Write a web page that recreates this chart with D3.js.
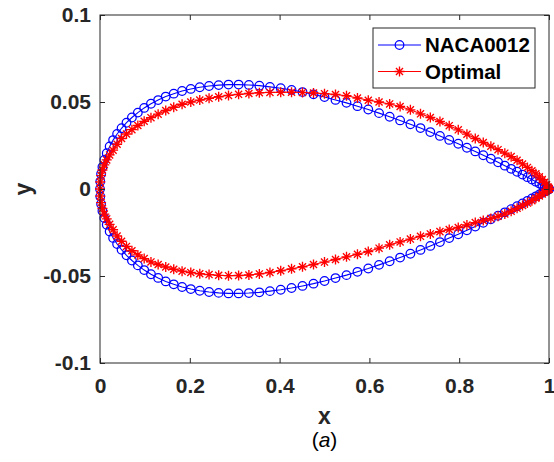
<!DOCTYPE html>
<html>
<head>
<meta charset="utf-8">
<script src="https://cdn.jsdelivr.net/npm/d3@7/dist/d3.min.js"></script>
<style>
  html, body { margin: 0; padding: 0; background: #fff; }
  svg { display: block; }
  text { font-family: "Liberation Sans", Arial, Helvetica, sans-serif; }
</style>
</head>
<body>
<svg id="chart" width="554" height="462"></svg>
<script>
// ---- data ----
const xStations = [0,0.0006,0.0024,0.0054,0.0096,0.0150,0.0215,0.0292,0.0381,0.0480,0.0590,0.0711,0.0843,0.0984,0.1135,0.1295,0.1464,0.1642,0.1828,0.2022,0.2222,0.2429,0.2643,0.2862,0.3087,0.3316,0.3549,0.3785,0.4025,0.4266,0.4510,0.4755,0.5,0.5245,0.5490,0.5734,0.5975,0.6215,0.6451,0.6684,0.6913,0.7138,0.7357,0.7571,0.7778,0.7979,0.8172,0.8358,0.8536,0.8705,0.8865,0.9016,0.9157,0.9289,0.9410,0.9520,0.9619,0.9708,0.9785,0.9850,0.9904,0.9946,0.9976,0.9994,1];

const nacaUpper = [0,0.0043,0.0086,0.0127,0.0167,0.0206,0.0244,0.0281,0.0316,0.0349,0.0381,0.0411,0.0439,0.0466,0.0490,0.0511,0.0531,0.0548,0.0563,0.0575,0.0585,0.0592,0.0597,0.0600,0.0600,0.0598,0.0594,0.0587,0.0579,0.0569,0.0557,0.0544,0.0529,0.0512,0.0495,0.0476,0.0457,0.0436,0.0415,0.0394,0.0372,0.0350,0.0327,0.0305,0.0282,0.0260,0.0237,0.0216,0.0194,0.0174,0.0154,0.0134,0.0116,0.0099,0.0083,0.0068,0.0054,0.0042,0.0031,0.0022,0.0014,0.0008,0.0004,0.0001,0];

const nacaLower = [0,-0.0043,-0.0086,-0.0127,-0.0167,-0.0206,-0.0244,-0.0281,-0.0316,-0.0349,-0.0381,-0.0411,-0.0439,-0.0466,-0.0490,-0.0511,-0.0531,-0.0548,-0.0563,-0.0575,-0.0585,-0.0592,-0.0597,-0.0600,-0.0600,-0.0598,-0.0594,-0.0587,-0.0579,-0.0569,-0.0557,-0.0544,-0.0529,-0.0512,-0.0495,-0.0476,-0.0457,-0.0436,-0.0415,-0.0394,-0.0372,-0.0350,-0.0327,-0.0305,-0.0282,-0.0260,-0.0237,-0.0216,-0.0194,-0.0174,-0.0154,-0.0134,-0.0116,-0.0099,-0.0083,-0.0068,-0.0054,-0.0042,-0.0031,-0.0022,-0.0014,-0.0008,-0.0004,-0.0001,0];

const optUpper = [0,0.0040,0.0077,0.0109,0.0139,0.0167,0.0196,0.0223,0.0257,0.0290,0.0316,0.0341,0.0365,0.0389,0.0410,0.0430,0.0451,0.0470,0.0487,0.0500,0.0511,0.0521,0.0530,0.0538,0.0544,0.0549,0.0553,0.0555,0.0556,0.0556,0.0555,0.0552,0.0548,0.0543,0.0536,0.0523,0.0510,0.0500,0.0489,0.0474,0.0455,0.0432,0.0411,0.0388,0.0364,0.0340,0.0315,0.0290,0.0267,0.0246,0.0226,0.0206,0.0186,0.0165,0.0144,0.0124,0.0105,0.0087,0.0070,0.0054,0.0039,0.0025,0.0013,0.0005,0];

const optLower = [0,-0.0040,-0.0078,-0.0112,-0.0144,-0.0172,-0.0203,-0.0234,-0.0270,-0.0300,-0.0330,-0.0355,-0.0379,-0.0400,-0.0419,-0.0434,-0.0448,-0.0461,-0.0472,-0.0480,-0.0487,-0.0492,-0.0496,-0.0498,-0.0497,-0.0494,-0.0488,-0.0480,-0.0470,-0.0459,-0.0447,-0.0434,-0.0420,-0.0405,-0.0390,-0.0375,-0.0359,-0.0340,-0.0321,-0.0304,-0.0288,-0.0272,-0.0258,-0.0245,-0.0233,-0.0221,-0.0207,-0.0193,-0.0181,-0.0170,-0.0157,-0.0144,-0.0128,-0.0111,-0.0095,-0.0081,-0.0067,-0.0053,-0.0040,-0.0028,-0.0018,-0.0010,-0.0004,-0.0001,0];

const xTicks = [0, 0.2, 0.4, 0.6, 0.8, 1];
const xTickLabels = ["0", "0.2", "0.4", "0.6", "0.8", "1"];
const yTicks = [-0.1, -0.05, 0, 0.05, 0.1];
const yTickLabels = ["-0.1", "-0.05", "0", "0.05", "0.1"];
const seriesNames = ["NACA0012", "Optimal"];

// ---- layout ----
const svg = d3.select("#chart");
const L = 100, R = 549, T = 15, B = 363;
const axisColor = "#262626";

const x = d3.scaleLinear().domain([0, 1]).range([L, R]);
const y = d3.scaleLinear().domain([-0.1, 0.1]).range([B, T]);

function loop(upper, lower) {
  const pts = [];
  for (let i = xStations.length - 1; i >= 0; i--) pts.push([xStations[i], upper[i]]);
  for (let i = 1; i < xStations.length; i++) pts.push([xStations[i], lower[i]]);
  return pts;
}
const nacaPts = loop(nacaUpper, nacaLower);
const optPts = loop(optUpper, optLower);

const line = d3.line().x(d => x(d[0])).y(d => y(d[1]));

const starSize = 5;
const sk = starSize * 0.7071;
const starPath = `M${-starSize},0L${starSize},0M0,${-starSize}L0,${starSize}M${-sk},${-sk}L${sk},${sk}M${-sk},${sk}L${sk},${-sk}`;
const circR = 4.3;

// NACA series
const gN = svg.append("g");
gN.append("path").attr("d", line(nacaPts)).attr("fill", "none").attr("stroke", "#0000ff").attr("stroke-width", 1.1);
gN.selectAll("circle").data(nacaPts).join("circle")
  .attr("cx", d => x(d[0])).attr("cy", d => y(d[1])).attr("r", circR)
  .attr("fill", "none").attr("stroke", "#0000ff").attr("stroke-width", 1.25);

// Optimal series
const gO = svg.append("g");
gO.append("path").attr("d", line(optPts)).attr("fill", "none").attr("stroke", "#ff0000").attr("stroke-width", 1.1);
gO.selectAll("path.star").data(optPts).join("path").attr("class", "star")
  .attr("transform", d => `translate(${x(d[0])},${y(d[1])})`)
  .attr("d", starPath).attr("fill", "none").attr("stroke", "#ff0000").attr("stroke-width", 1.35);

// ---- axes ----
const fontTick = 21;
const xAxis = d3.axisBottom(x).tickValues(xTicks).tickFormat((d, i) => xTickLabels[i]).tickSize(-5).tickPadding(15);
const gx = svg.append("g").attr("transform", `translate(0,${B})`).call(xAxis);
const yAxis = d3.axisLeft(y).tickValues(yTicks).tickFormat((d, i) => yTickLabels[i]).tickSize(-5).tickPadding(9);
const gy = svg.append("g").attr("transform", `translate(${L},0)`).call(yAxis);
const xTop = d3.axisTop(x).tickValues(xTicks).tickFormat("").tickSize(-5);
const gxt = svg.append("g").attr("transform", `translate(0,${T})`).call(xTop);
const yRight = d3.axisRight(y).tickValues(yTicks).tickFormat("").tickSize(-5);
const gyr = svg.append("g").attr("transform", `translate(${R},0)`).call(yRight);

[gx, gy, gxt, gyr].forEach(g => {
  g.select(".domain").remove();
  g.selectAll(".tick line").attr("stroke", axisColor).attr("stroke-width", 1);
  g.selectAll(".tick text").attr("fill", axisColor).attr("font-size", fontTick).attr("font-weight", "bold")
    .attr("font-family", '"Liberation Sans", Arial, sans-serif');
});

svg.append("rect").attr("x", L).attr("y", T).attr("width", R - L).attr("height", B - T)
  .attr("fill", "none").attr("stroke", axisColor).attr("stroke-width", 1);

// axis labels
svg.append("text").attr("x", (L + R) / 2).attr("y", 424).attr("text-anchor", "middle")
  .attr("font-size", 23).attr("font-weight", "bold").attr("fill", axisColor).text("x");
svg.append("text").attr("transform", `translate(31,${(T + B) / 2}) rotate(-90)`).attr("text-anchor", "middle")
  .attr("font-size", 23).attr("font-weight", "bold").attr("fill", axisColor).text("y");

const cap = svg.append("text").attr("x", (L + R) / 2).attr("y", 447).attr("text-anchor", "middle")
  .attr("font-size", 21).attr("fill", "#000");
cap.append("tspan").text("(");
cap.append("tspan").attr("font-style", "italic").text("a");
cap.append("tspan").text(")");

// ---- legend ----
const lg = svg.append("g");
lg.append("rect").attr("x", 373).attr("y", 28).attr("width", 162).attr("height", 60)
  .attr("fill", "#fff").attr("stroke", axisColor).attr("stroke-width", 1);
const rows = [
  {name: seriesNames[0], color: "#0000ff", marker: "circle", yy: 45},
  {name: seriesNames[1], color: "#ff0000", marker: "star", yy: 71.5}
];
rows.forEach(r => {
  lg.append("line").attr("x1", 378).attr("x2", 421).attr("y1", r.yy).attr("y2", r.yy)
    .attr("stroke", r.color).attr("stroke-width", 1.1);
  if (r.marker === "circle") {
    lg.append("circle").attr("cx", 399.5).attr("cy", r.yy).attr("r", circR).attr("fill", "none").attr("stroke", r.color).attr("stroke-width", 1.25);
  } else {
    lg.append("path").attr("transform", `translate(399.5,${r.yy})`).attr("d", starPath).attr("fill", "none").attr("stroke", r.color).attr("stroke-width", 1.35);
  }
  lg.append("text").attr("x", 425).attr("y", r.yy).attr("dy", "0.36em").attr("font-size", 20.5)
    .attr("font-weight", "bold").attr("fill", "#000").text(r.name);
});
</script>
</body>
</html>
